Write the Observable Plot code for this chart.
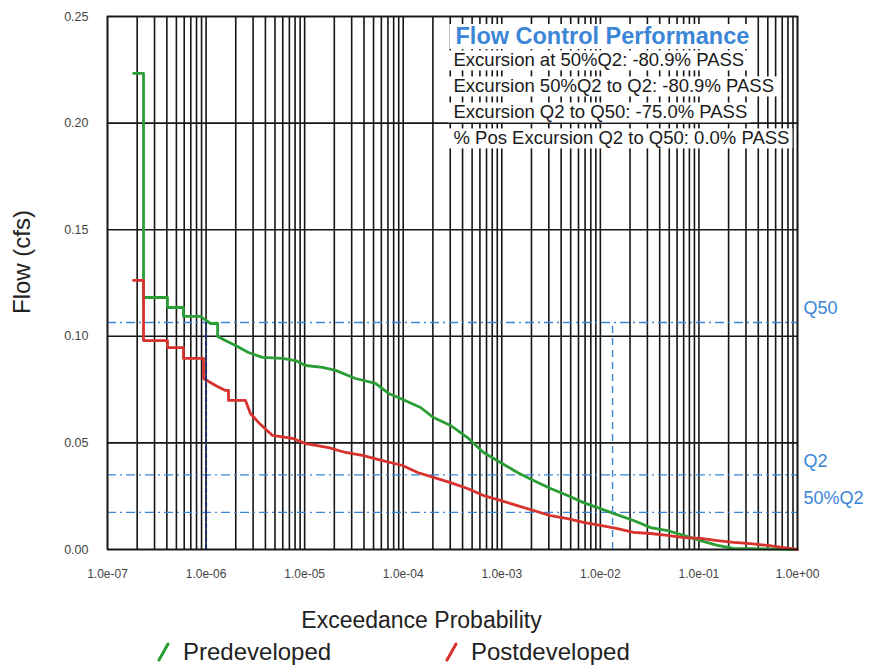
<!DOCTYPE html>
<html>
<head>
<meta charset="utf-8">
<script src="https://cdn.jsdelivr.net/npm/d3@7"></script>
<script src="https://cdn.jsdelivr.net/npm/@observablehq/plot@0.6"></script>
<style>
  body { margin: 0; background: #fff; font-family: "Liberation Sans", Arial, sans-serif; }
  #chart svg { display: block; }
  #legend { position: relative; width: 871px; height: 32px; font-size: 24px; color: #222; }
  .item { position: absolute; top: 0; display: flex; align-items: center; height: 32px; }
  .item svg { margin-right: 12px; }
</style>
</head>
<body>
<div id="chart"></div>
<div id="legend"></div>
<script>
// ---- data ----
const preProb = [1.84e-7, 2.32e-7, 2.32e-7, 4.06e-7, 4.06e-7, 5.90e-7, 5.90e-7, 8.78e-7, 9.42e-7, 1.11e-6,
  1.31e-6, 1.31e-6, 1.57e-6, 1.99e-6, 2.69e-6, 3.74e-6, 5.96e-6, 8.08e-6, 1.02e-5, 1.52e-5,
  2.06e-5, 3.28e-5, 5.24e-5, 7.10e-5, 9.39e-5, 1.50e-4, 2.03e-4, 3.02e-4, 4.49e-4, 6.53e-4,
  9.70e-4, 1.44e-3, 2.10e-3, 3.12e-3, 4.65e-3, 6.75e-3, 1.00e-2, 1.27e-2, 2.17e-2, 3.23e-2,
  4.80e-2, 6.98e-2, 0.104, 0.154, 0.224, 0.497, 1.0];
const preFlow = [0.2233, 0.2233, 0.1182, 0.1182, 0.1135, 0.1135, 0.1093, 0.1093, 0.1083, 0.1060,
  0.1060, 0.0999, 0.0980, 0.0957, 0.0924, 0.0901, 0.0896, 0.0886, 0.0863, 0.0854,
  0.0840, 0.0802, 0.0779, 0.0732, 0.0708, 0.0666, 0.0619, 0.0582, 0.0525, 0.0455,
  0.0408, 0.0361, 0.0324, 0.0286, 0.0253, 0.0220, 0.0192, 0.0174, 0.0136, 0.0103,
  0.0089, 0.0066, 0.0042, 0.0019, 0.0005, 0.0003, 0.0];

const postProb = [1.84e-7, 2.32e-7, 2.32e-7, 4.06e-7, 4.06e-7, 5.90e-7, 5.90e-7, 9.42e-7, 9.42e-7, 1.25e-6,
  1.57e-6, 1.69e-6, 1.69e-6, 2.51e-6, 2.82e-6, 3.40e-6, 4.72e-6, 7.54e-6, 1.02e-5, 1.75e-5,
  2.60e-5, 3.86e-5, 6.17e-5, 9.84e-5, 1.40e-4, 2.03e-4, 3.02e-4, 4.49e-4, 6.53e-4, 9.70e-4,
  1.44e-3, 2.10e-3, 3.12e-3, 4.65e-3, 6.75e-3, 1.00e-2, 1.49e-2, 2.17e-2, 3.23e-2, 4.80e-2,
  6.98e-2, 0.104, 0.154, 0.224, 0.333, 0.497, 0.721, 1.0];
const postFlow = [0.1262, 0.1262, 0.0980, 0.0980, 0.0947, 0.0947, 0.0896, 0.0896, 0.0802, 0.0769,
  0.0746, 0.0746, 0.0699, 0.0699, 0.0638, 0.0596, 0.0535, 0.0521, 0.0497, 0.0478,
  0.0455, 0.0441, 0.0417, 0.0394, 0.0361, 0.0338, 0.0314, 0.0286, 0.0253, 0.0230,
  0.0206, 0.0183, 0.0159, 0.0145, 0.0127, 0.0113, 0.0098, 0.0080, 0.0075, 0.0066,
  0.0056, 0.0052, 0.0042, 0.0033, 0.0028, 0.0019, 0.0009, 0.0];

const thresholdNames = ["Q50", "Q2", "50%Q2"];
const thresholdFlows = [0.1065, 0.0350, 0.0174];
const markerProbs = [1.0e-6, 0.0133];

const xTickValues = [1e-7, 1e-6, 1e-5, 1e-4, 1e-3, 1e-2, 1e-1, 1];
const xTickLabels = ["1.0e-07", "1.0e-06", "1.0e-05", "1.0e-04", "1.0e-03", "1.0e-02", "1.0e-01", "1.0e+00"];
const yTickValues = [0, 0.05, 0.10, 0.15, 0.20, 0.25];

const perfTitle = "Flow Control Performance";
const perfLines = [
  "Excursion at 50%Q2: -80.9% PASS",
  "Excursion 50%Q2 to Q2: -80.9% PASS",
  "Excursion Q2 to Q50: -75.0% PASS",
  "% Pos Excursion Q2 to Q50: 0.0% PASS"
];
const seriesNames = ["Predeveloped", "Postdeveloped"];
const seriesColors = ["#2a9e35", "#d8322e"];

// ---- tables ----
const pre = preProb.map((p, i) => ({prob: p, flow: preFlow[i]}));
const post = postProb.map((p, i) => ({prob: p, flow: postFlow[i]}));
const thresholds = thresholdNames.map((n, i) => ({name: n, flow: thresholdFlows[i]}));
const gridX = [];
for (let k = -7; k < 0; k++) for (let m = 1; m < 10; m++) gridX.push(m * Math.pow(10, k));
gridX.push(1);

const blue = "#3b86d6";
const q50 = thresholdFlows[0];

const plot = Plot.plot({
  width: 871,
  height: 636,
  marginLeft: 107,
  marginRight: 74,
  marginTop: 16,
  marginBottom: 87,
  style: {fontFamily: "'Liberation Sans', Arial, sans-serif", background: "#fff"},
  x: {type: "log", domain: [1e-7, 1]},
  y: {domain: [0, 0.25]},
  marks: [
    Plot.ruleX(gridX, {stroke: "#161616", strokeWidth: 1.6}),
    Plot.ruleY(yTickValues, {stroke: "#161616", strokeWidth: 1.6}),
    Plot.ruleY(thresholds, {y: "flow", stroke: blue, strokeWidth: 1.4, strokeDasharray: "9,4,2,4"}),
    Plot.line(pre, {x: "prob", y: "flow", stroke: seriesColors[0], strokeWidth: 2.8}),
    Plot.line(post, {x: "prob", y: "flow", stroke: seriesColors[1], strokeWidth: 2.8}),
    Plot.ruleX([markerProbs[0]], {y1: 0, y2: q50, stroke: "#1d2f72", strokeWidth: 2, strokeDasharray: "5,2"}),
    Plot.ruleX([markerProbs[1]], {y1: 0, y2: q50, stroke: blue, strokeWidth: 1.4, strokeDasharray: "7,5"}),
    Plot.frame({stroke: "#161616", strokeWidth: 1.6}),
    Plot.text(thresholds, {x: () => 1, y: "flow", text: "name", dx: 6, dy: -14, textAnchor: "start",
      lineAnchor: "middle", fill: blue, fontSize: 18}),
    Plot.axisX(xTickValues, {tickSize: 0, tickPadding: 20, fontSize: 12, color: "#444", label: null,
      tickFormat: d => xTickLabels[xTickValues.indexOf(d)]}),
    Plot.axisY(yTickValues, {tickSize: 0, tickPadding: 19, fontSize: 12.5, color: "#444", label: null,
      tickFormat: d3.format(".2f")}),
    Plot.text(["Exceedance Probability"], {frameAnchor: "bottom", dx: -31, dy: 71, lineAnchor: "middle",
      fontSize: 23, fill: "#222"}),
    Plot.text(["Flow (cfs)"], {frameAnchor: "left", rotate: -90, dx: -85, dy: 31, lineAnchor: "middle",
      fontSize: 24, fill: "#222"}),
    Plot.text([perfTitle], {frameAnchor: "top-left", dx: 348, dy: 20, textAnchor: "start", lineAnchor: "middle",
      fontSize: 23.5, fontWeight: "bold", fill: blue}),
    ...perfLines.map((t, i) => Plot.text([t], {frameAnchor: "top-left", dx: 346, dy: 44 + i * 26,
      textAnchor: "start", lineAnchor: "middle", fontSize: 18.5, fill: "#1a1a1a"}))
  ]
});
document.getElementById("chart").appendChild(plot);

// white label backgrounds behind the performance box rows
const boxTexts = [perfTitle, ...perfLines];
plot.querySelectorAll("text").forEach(t => {
  if (!boxTexts.includes(t.textContent)) return;
  const b = t.getBBox();
  const r = document.createElementNS("http://www.w3.org/2000/svg", "rect");
  r.setAttribute("x", b.x - 6);
  r.setAttribute("y", b.y + 1);
  r.setAttribute("width", b.width + 9);
  r.setAttribute("height", b.height - 1);
  r.setAttribute("fill", "#fff");
  r.setAttribute("stroke", "none");
  if (t.getAttribute("transform")) r.setAttribute("transform", t.getAttribute("transform"));
  t.parentNode.insertBefore(r, t);
});

// legend
const legend = document.getElementById("legend");
const legendX = [157, 445];
seriesNames.forEach((name, i) => {
  const item = document.createElement("div");
  item.className = "item";
  item.style.left = legendX[i] + "px";
  item.innerHTML = `<svg width="14" height="20"><line x1="2" y1="18" x2="11" y2="2" stroke="${seriesColors[i]}" stroke-width="3" stroke-linecap="round"/></svg><span>${name}</span>`;
  legend.appendChild(item);
});
</script>
</body>
</html>
